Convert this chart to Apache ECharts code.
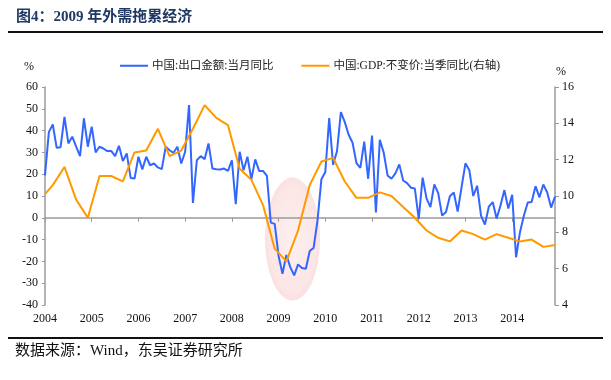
<!DOCTYPE html>
<html><head><meta charset="utf-8">
<script src="https://cdn.jsdelivr.net/npm/echarts@6/dist/echarts.min.js"></script>
<style>html,body{margin:0;padding:0;background:#fff}#c{width:611px;height:380px}</style>
</head><body><div id="c"></div>
<script>
// ---- data ----
const years = ['2004','2005','2006','2007','2008','2009','2010','2011','2012','2013','2014'];
// 中国:出口金额:当月同比 (%), monthly Jan..Dec
const exp2004 = [19.5, 39.4, 42.8, 32.1, 32.4, 46.3, 34.1, 37.2, 32.6, 28.3, 45.6, 32.6];
const exp2005 = [41.8, 30.0, 32.6, 31.8, 30.6, 30.7, 28.3, 33.0, 26.0, 29.5, 18.3, 18.0];
const exp2006 = [28.0, 22.2, 28.0, 24.1, 24.9, 23.1, 22.3, 32.6, 31.0, 29.8, 32.6, 24.9];
const exp2007 = [30.3, 51.7, 6.8, 26.4, 28.3, 26.9, 34.1, 22.6, 22.3, 22.2, 22.6, 21.5];
const exp2008 = [26.4, 6.2, 30.3, 21.8, 28.0, 17.6, 26.8, 21.5, 21.5, 19.2, -2.2, -2.8];
const exp2009 = [-17.5, -25.7, -17.1, -22.6, -26.4, -21.4, -23.0, -23.4, -15.2, -13.8, -1.2, 17.7];
const exp2010 = [21.0, 45.7, 24.3, 30.5, 48.5, 43.9, 38.1, 34.4, 25.1, 22.9, 34.9, 17.9];
const exp2011 = [37.7, 2.4, 35.8, 29.9, 19.4, 17.9, 20.4, 24.5, 17.1, 15.9, 13.8, 13.4];
const exp2012 = [-0.5, 18.4, 8.9, 4.9, 15.3, 11.3, 1.0, 2.7, 9.9, 11.6, 2.9, 14.1];
const exp2013 = [25.0, 21.8, 10.0, 14.7, 1.0, -3.1, 5.1, 7.2, -0.3, 5.6, 12.7, 4.3];
const exp2014 = [10.6, -18.1, -6.6, 0.9, 7.0, 7.2, 14.5, 9.4, 15.3, 11.6, 4.7, 9.7];
// 中国:GDP:不变价:当季同比 (%), quarterly Q1..Q4 (plotted at quarter-end month)
const gdpStart = 10.1; // value where the line enters the plot at Jan 2004
const gdp2004 = [10.6, 11.6, 9.8, 8.8];
const gdp2005 = [11.1, 11.1, 10.8, 12.4];
const gdp2006 = [12.5, 13.7, 12.2, 12.5];
const gdp2007 = [13.7, 15.0, 14.3, 13.9];
const gdp2008 = [11.5, 10.9, 9.5, 7.1];
const gdp2009 = [6.4, 8.1, 10.6, 11.9];
const gdp2010 = [12.1, 10.8, 9.9, 9.9];
const gdp2011 = [10.2, 10.0, 9.4, 8.8];
const gdp2012 = [8.1, 7.7, 7.5, 8.1];
const gdp2013 = [7.9, 7.6, 7.9, 7.7];
const gdp2014 = [7.5, 7.6, 7.2, 7.3];
const leftTicks = {min: -40, max: 60, interval: 10};
const rightTicks = {min: 4, max: 16, interval: 2};

// ---- build ----
const months = [];
years.forEach(y => { for (let m = 1; m <= 12; m++) months.push(y + '-' + (m < 10 ? '0' : '') + m); });
const exportsAll = [].concat(exp2004, exp2005, exp2006, exp2007, exp2008, exp2009, exp2010, exp2011, exp2012, exp2013, exp2014);
const gdpQ = [].concat(gdp2004, gdp2005, gdp2006, gdp2007, gdp2008, gdp2009, gdp2010, gdp2011, gdp2012, gdp2013, gdp2014);
const gdpAll = months.map(() => null);
gdpAll[0] = gdpStart;
gdpQ.forEach((v, k) => { gdpAll[k * 3 + 2] = v; });

const serif = '"Liberation Serif", "Times New Roman", "Noto Sans CJK SC", serif';
const chart = echarts.init(document.getElementById('c'), null, {renderer: 'canvas'});
chart.setOption({
  animation: false,
  backgroundColor: '#fff',
  grid: {left: 45, right: 56, top: 87, bottom: 75},
  legend: {
    left: 115, top: 55, itemWidth: 28, itemHeight: 2, itemGap: 28, icon: 'rect',
    textStyle: {fontFamily: serif, fontSize: 11.5, color: '#222', padding: [0, 0, 0, -1]},
    data: ['中国:出口金额:当月同比', '中国:GDP:不变价:当季同比(右轴)']
  },
  xAxis: [
    {
      type: 'category', data: months, boundaryGap: false,
      axisLine: {onZero: true, lineStyle: {color: '#9a9a9a', width: 1.5}},
      axisTick: {show: true, length: 4, interval: (i) => i % 12 === 0, lineStyle: {color: '#9a9a9a'}},
      axisLabel: {show: false}, splitLine: {show: false}
    },
    {
      type: 'category', data: months, boundaryGap: false, position: 'bottom',
      axisLine: {show: false, onZero: false}, axisTick: {show: false},
      axisLabel: {
        interval: (i) => i % 12 === 0, formatter: (v) => v.slice(0, 4),
        fontFamily: serif, fontSize: 12, color: '#111', margin: 8
      },
      splitLine: {show: false}
    }
  ],
  yAxis: [
    {
      type: 'value', min: leftTicks.min, max: leftTicks.max, interval: leftTicks.interval, position: 'left',
      axisLine: {show: true, lineStyle: {color: '#9a9a9a', width: 1.5}},
      axisTick: {show: true, length: 3, lineStyle: {color: '#9a9a9a'}},
      axisLabel: {fontFamily: serif, fontSize: 12, color: '#111', margin: 7},
      splitLine: {show: false}
    },
    {
      type: 'value', min: rightTicks.min, max: rightTicks.max, interval: rightTicks.interval, position: 'right',
      axisLine: {show: true, lineStyle: {color: '#9a9a9a', width: 1.5}},
      axisTick: {show: true, length: 4, lineStyle: {color: '#9a9a9a'}},
      axisLabel: {fontFamily: serif, fontSize: 12, color: '#111', margin: 7},
      splitLine: {show: false}
    }
  ],
  series: [
    {
      name: '中国:出口金额:当月同比', type: 'line', data: exportsAll, yAxisIndex: 0, xAxisIndex: 0,
      symbol: 'none', lineStyle: {color: '#3366ff', width: 2}, itemStyle: {color: '#3366ff'}, z: 3
    },
    {
      name: '中国:GDP:不变价:当季同比(右轴)', type: 'line', data: gdpAll, yAxisIndex: 1, xAxisIndex: 0,
      connectNulls: true, symbol: 'none', lineStyle: {color: '#ff9900', width: 2}, itemStyle: {color: '#ff9900'}, z: 4
    }
  ],
  graphic: [
    {type: 'text', left: 16, top: 10, style: {text: '图4：2009 年外需拖累经济', font: 'bold 15px "Liberation Serif", "Noto Sans CJK SC", serif', fill: '#1f3864'}},
    {type: 'rect', shape: {x: 8, y: 31, width: 595, height: 2}, style: {fill: '#111'}},
    {type: 'rect', shape: {x: 8, y: 337, width: 595, height: 2}, style: {fill: '#111'}},
    {type: 'text', left: 15, top: 344, style: {text: '数据来源：Wind，东吴证券研究所', font: '15px "Liberation Serif", "Noto Sans CJK SC", serif', fill: '#111'}},
    {type: 'text', x: 24, y: 61, style: {text: '%', font: '12px "Liberation Serif", serif', fill: '#111'}},
    {type: 'text', x: 556, y: 66, style: {text: '%', font: '12px "Liberation Serif", serif', fill: '#111'}},
    {type: 'circle', x: 292.5, y: 239, scaleX: 0.447, shape: {cx: 0, cy: 0, r: 61.5}, z: -10,
     style: {fill: {type: 'radial', x: 0.5, y: 0.5, r: 0.5, colorStops: [{offset: 0, color: '#fdf0f0'}, {offset: 0.85, color: '#fce6e6'}, {offset: 1, color: '#fbe0e0'}]}}}
  ]
});
</script></body></html>
